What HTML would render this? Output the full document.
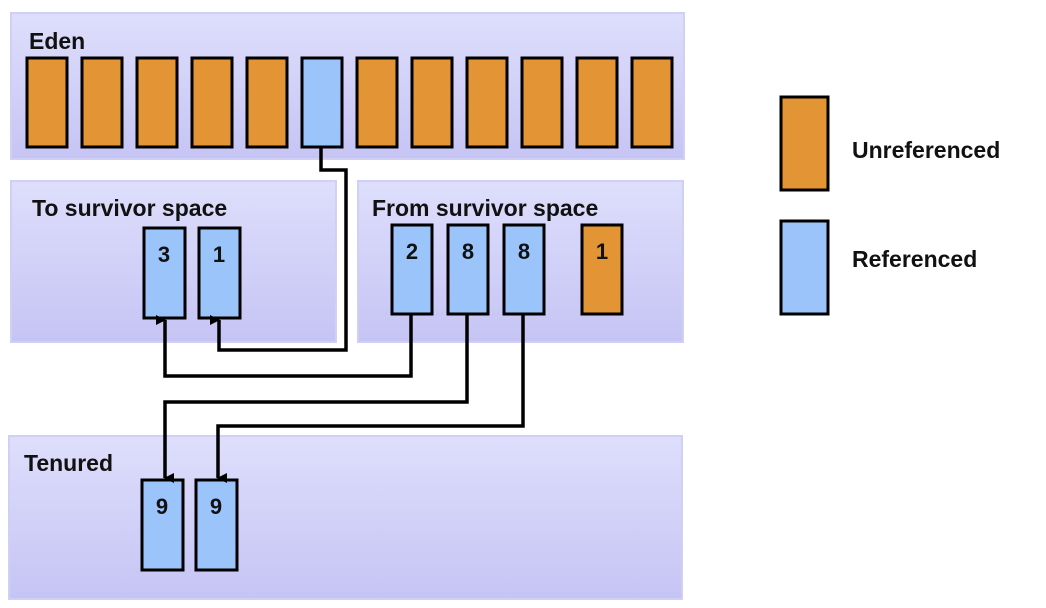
<!DOCTYPE html>
<html><head><meta charset="utf-8"><style>
html,body{margin:0;padding:0;background:#fff;}
svg{display:block;}
text{font-family:"Liberation Sans",Arial,sans-serif;font-weight:bold;fill:#111;}
</style></head><body>
<svg width="1046" height="608" viewBox="0 0 1046 608" xmlns="http://www.w3.org/2000/svg">
<defs>
<linearGradient id="g" x1="0" y1="0" x2="0" y2="1">
<stop offset="0" stop-color="#dedefc"/><stop offset="1" stop-color="#c6c4f4"/>
</linearGradient>
<marker id="a" markerWidth="10" markerHeight="10" refX="5" refY="9" orient="auto-start-reverse" markerUnits="userSpaceOnUse" viewBox="0 0 10 10">
<path d="M0,0 L10,0 L5,10 z" fill="#000"/>
</marker>
</defs>
<g stroke="#d0d0f4" stroke-width="2" fill="url(#g)">
<rect x="11" y="13" width="673" height="146"/>
<rect x="11" y="181" width="325" height="161"/>
<rect x="358" y="181" width="325" height="161"/>
<rect x="9" y="436" width="673" height="163"/>
</g>
<g font-size="23">
<text x="29" y="49">Eden</text>
<text x="32" y="216">To survivor  space</text>
<text x="372" y="216">From survivor  space</text>
<text x="24" y="471">Tenured</text>
<text x="852" y="158">Unreferenced</text>
<text x="852" y="267">Referenced</text>
</g>
<g stroke="#000" stroke-width="3">
<g fill="#e39535">
<rect x="27" y="58" width="40" height="89"/>
<rect x="82" y="58" width="40" height="89"/>
<rect x="137" y="58" width="40" height="89"/>
<rect x="192" y="58" width="40" height="89"/>
<rect x="247" y="58" width="40" height="89"/>
<rect x="357" y="58" width="40" height="89"/>
<rect x="412" y="58" width="40" height="89"/>
<rect x="467" y="58" width="40" height="89"/>
<rect x="522" y="58" width="40" height="89"/>
<rect x="577" y="58" width="40" height="89"/>
<rect x="632" y="58" width="40" height="89"/>
<rect x="582" y="225" width="40" height="89"/>
<rect x="781" y="97" width="47" height="93"/>
</g>
<g fill="#9bc4fa">
<rect x="302" y="58" width="40" height="89"/>
<rect x="144" y="228" width="41" height="90"/>
<rect x="199" y="228" width="41" height="90"/>
<rect x="392" y="225" width="40" height="89"/>
<rect x="448" y="225" width="40" height="89"/>
<rect x="504" y="225" width="40" height="89"/>
<rect x="142" y="480" width="41" height="90"/>
<rect x="196" y="480" width="41" height="90"/>
<rect x="781" y="221" width="47" height="93"/>
</g>
</g>
<g font-size="22" text-anchor="middle">
<text x="164" y="262">3</text>
<text x="219" y="262">1</text>
<text x="412" y="259">2</text>
<text x="468" y="259">8</text>
<text x="524" y="259">8</text>
<text x="602" y="259">1</text>
<text x="162" y="514">9</text>
<text x="216" y="514">9</text>
</g>
<g stroke="#000" stroke-width="3.5" fill="none">
<polyline points="321,147 321,170 346,170 346,350 219,350 219,320" marker-end="url(#a)"/>
<polyline points="411,314 411,376 165,376 165,320" marker-end="url(#a)"/>
<polyline points="467,314 467,402 165,402 165,478" marker-end="url(#a)"/>
<polyline points="523,314 523,426 218,426 218,478" marker-end="url(#a)"/>
</g>
</svg>
</body></html>
